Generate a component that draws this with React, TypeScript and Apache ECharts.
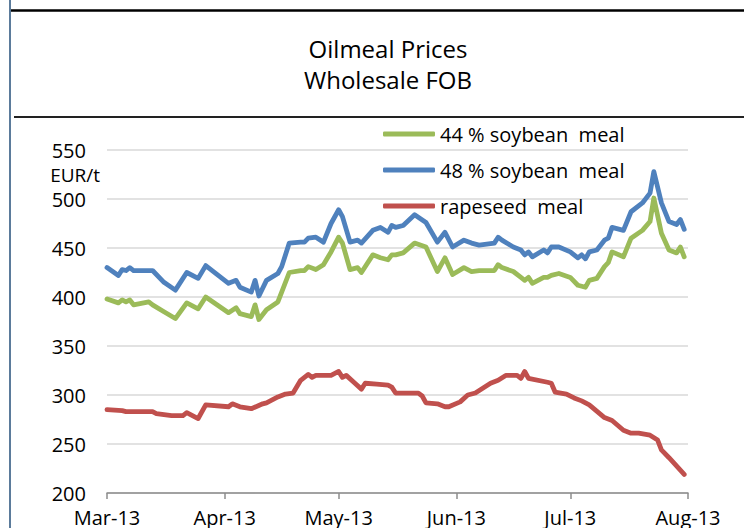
import React, { useEffect, useRef } from "react";
import * as echarts from "echarts";

const soyDates = [
  "2013-03-01", "2013-03-04", "2013-03-05", "2013-03-06", "2013-03-07", "2013-03-08", "2013-03-12", "2013-03-13",
  "2013-03-16", "2013-03-19", "2013-03-22", "2013-03-25", "2013-03-27", "2013-04-02", "2013-04-04", "2013-04-05",
  "2013-04-08", "2013-04-09", "2013-04-10", "2013-04-12", "2013-04-15", "2013-04-16", "2013-04-18", "2013-04-21",
  "2013-04-22", "2013-04-23", "2013-04-25", "2013-04-27", "2013-04-29", "2013-05-01", "2013-05-02", "2013-05-04",
  "2013-05-06", "2013-05-07", "2013-05-10", "2013-05-12", "2013-05-14", "2013-05-15", "2013-05-16", "2013-05-18",
  "2013-05-21", "2013-05-24", "2013-05-27", "2013-05-29", "2013-05-31", "2013-06-03", "2013-06-05", "2013-06-07",
  "2013-06-11", "2013-06-12", "2013-06-13", "2013-06-16", "2013-06-18", "2013-06-19", "2013-06-20", "2013-06-21",
  "2013-06-24", "2013-06-25", "2013-06-26", "2013-06-28", "2013-07-01", "2013-07-03", "2013-07-04", "2013-07-05",
  "2013-07-06", "2013-07-08", "2013-07-10", "2013-07-11", "2013-07-12", "2013-07-15", "2013-07-17", "2013-07-20",
  "2013-07-22", "2013-07-23", "2013-07-25", "2013-07-27", "2013-07-29", "2013-07-30", "2013-07-31",
];

const soy48 = [
  430, 422, 428, 427, 430, 427, 427, 427,
  415, 407, 425, 419, 432, 414, 417, 410,
  405, 417, 401, 417, 424, 431, 455, 456,
  456, 460, 461, 456, 475, 489, 482, 456,
  458, 455, 468, 471, 466, 473, 471, 473,
  484, 476, 456, 466, 451, 458, 455, 453,
  455, 461, 458, 451, 448, 443, 446, 441,
  448, 445, 451, 451, 446, 440, 443, 439,
  446, 448, 458, 460, 471, 468, 487, 496,
  506, 528, 496, 477, 474, 479, 469,
];

const soy44 = [
  398, 394, 397, 395, 397, 392, 395, 392,
  385, 378, 394, 388, 400, 384, 389, 383,
  380, 392, 377, 387, 395, 405, 425, 427,
  427, 431, 428, 433, 446, 461, 455, 428,
  430, 425, 443, 440, 438, 443, 443, 445,
  455, 451, 426, 440, 423, 430, 426, 427,
  427, 433, 430, 426, 420, 417, 420, 414,
  420, 420, 422, 424, 420, 412, 411, 410,
  417, 419, 431, 435, 446, 441, 460, 468,
  477, 501, 465, 448, 445, 451, 441,
];

const rapeDates = [
  "2013-03-01", "2013-03-05", "2013-03-06", "2013-03-13", "2013-03-14", "2013-03-18", "2013-03-21", "2013-03-22",
  "2013-03-25", "2013-03-27", "2013-04-02", "2013-04-03", "2013-04-05", "2013-04-08", "2013-04-11", "2013-04-12",
  "2013-04-15", "2013-04-17", "2013-04-19", "2013-04-21", "2013-04-23", "2013-04-24", "2013-04-25", "2013-04-29",
  "2013-05-01", "2013-05-02", "2013-05-03", "2013-05-05", "2013-05-07", "2013-05-08", "2013-05-11", "2013-05-14",
  "2013-05-15", "2013-05-16", "2013-05-22", "2013-05-23", "2013-05-24", "2013-05-27", "2013-05-29", "2013-05-30",
  "2013-06-02", "2013-06-04", "2013-06-06", "2013-06-10", "2013-06-12", "2013-06-14", "2013-06-17", "2013-06-18",
  "2013-06-19", "2013-06-20", "2013-06-25", "2013-06-26", "2013-06-27", "2013-06-30", "2013-07-02", "2013-07-04",
  "2013-07-06", "2013-07-10", "2013-07-12", "2013-07-15", "2013-07-17", "2013-07-19", "2013-07-22", "2013-07-24",
  "2013-07-25", "2013-07-27", "2013-07-31",
];

const rapeseed = [
  285, 284, 283, 283, 281, 279, 279, 282,
  276, 290, 288, 291, 288, 286, 291, 292,
  298, 301, 302, 315, 321, 318, 320, 320,
  324, 318, 320, 313, 306, 312, 311, 310,
  308, 302, 302, 299, 292, 291, 288, 288,
  293, 300, 302, 312, 315, 320, 320, 317,
  324, 317, 313, 312, 303, 301, 297, 294,
  290, 277, 274, 264, 261, 261, 259, 254,
  244, 236, 219,
];

const monthNames = ["Jan", "Feb", "Mar", "Apr", "May", "Jun", "Jul", "Aug", "Sep", "Oct", "Nov", "Dec"];
const seriesNames = ["44 % soybean  meal", "48 % soybean  meal", "rapeseed  meal"];
const colors = ["#9bbb59", "#4f81bd", "#c0504d"];

const FONT = "'Open Sans', 'DejaVu Sans', sans-serif";

export default function App() {
  const ref = useRef<HTMLDivElement>(null);

  useEffect(() => {
    if (!ref.current) return;
    const chart = echarts.init(ref.current, null, { renderer: "svg" });
    const pairs = (ds: string[], vs: number[]) => ds.map((d, i) => [d, vs[i]]);
    const lineStyle = (c: string) => ({ color: c, width: 4.8, join: "round", cap: "round" });

    chart.setOption({
      animation: false,
      backgroundColor: "#ffffff",
      grid: { left: 107, right: 56, top: 150, bottom: 35, containLabel: false },
      legend: {
        orient: "vertical",
        left: 383,
        top: 124,
        padding: 0,
        icon: "roundRect",
        itemWidth: 52,
        itemHeight: 5,
        itemGap: 16,
        data: seriesNames,
        textStyle: { fontFamily: FONT, fontSize: 20, color: "#000", lineHeight: 20 },
      },
      xAxis: {
        type: "time",
        min: "2013-03-01",
        max: "2013-08-01",
        splitNumber: 5,
        minInterval: 28 * 86400000,
        axisLine: { lineStyle: { color: "#8c8c8c", width: 1.5 } },
        axisTick: { show: true, length: 6, lineStyle: { color: "#8c8c8c", width: 1.5 } },
        splitLine: { show: false },
        axisLabel: {
          margin: 14,
          fontFamily: FONT,
          fontSize: 20,
          lineHeight: 20,
          color: "#000",
          showMinLabel: true,
          showMaxLabel: true,
          hideOverlap: false,
          formatter: (v: number) => {
            const d = new Date(v);
            return monthNames[d.getMonth()] + "-13";
          },
        },
      },
      yAxis: {
        type: "value",
        min: 200,
        max: 550,
        interval: 50,
        axisLine: { show: false },
        axisTick: { show: false },
        splitLine: { lineStyle: { color: "#d9d9d9", width: 1.5 } },
        axisLabel: { margin: 21, fontFamily: FONT, fontSize: 20, lineHeight: 20, color: "#000" },
      },
      series: [
        {
          name: seriesNames[0],
          type: "line",
          data: pairs(soyDates, soy44),
          showSymbol: false,
          color: colors[0],
          lineStyle: lineStyle(colors[0]),
        },
        {
          name: seriesNames[1],
          type: "line",
          data: pairs(soyDates, soy48),
          showSymbol: false,
          color: colors[1],
          lineStyle: lineStyle(colors[1]),
        },
        {
          name: seriesNames[2],
          type: "line",
          data: pairs(rapeDates, rapeseed),
          showSymbol: false,
          color: colors[2],
          lineStyle: lineStyle(colors[2]),
        },
      ],
      graphic: [
        { type: "line", shape: { x1: 10, y1: 0, x2: 10, y2: 528 }, style: { stroke: "#5b7b9b", lineWidth: 2 } },
        { type: "line", shape: { x1: 11, y1: 10.5, x2: 744, y2: 10.5 }, style: { stroke: "#000", lineWidth: 2.5 } },
        { type: "line", shape: { x1: 14, y1: 117, x2: 744, y2: 117 }, style: { stroke: "#222", lineWidth: 2 } },
        {
          type: "text",
          x: 388,
          y: 48,
          style: {
            text: "Oilmeal Prices",
            font: "24px " + FONT,
            fill: "#000",
            textAlign: "center",
            textVerticalAlign: "middle",
          },
        },
        {
          type: "text",
          x: 388,
          y: 79,
          style: {
            text: "Wholesale FOB",
            font: "24px " + FONT,
            fill: "#000",
            textAlign: "center",
            textVerticalAlign: "middle",
          },
        },
        {
          type: "text",
          x: 100,
          y: 175,
          style: {
            text: "EUR/t",
            font: "19px " + FONT,
            lineHeight: 17,
            fill: "#000",
            textAlign: "right",
            textVerticalAlign: "middle",
          },
        },
      ],
    });
    return () => chart.dispose();
  }, []);

  return (
    <div
      ref={ref}
      style={{ position: "fixed", left: 0, top: 0, width: 744, height: 528, background: "#fff" }}
    />
  );
}
